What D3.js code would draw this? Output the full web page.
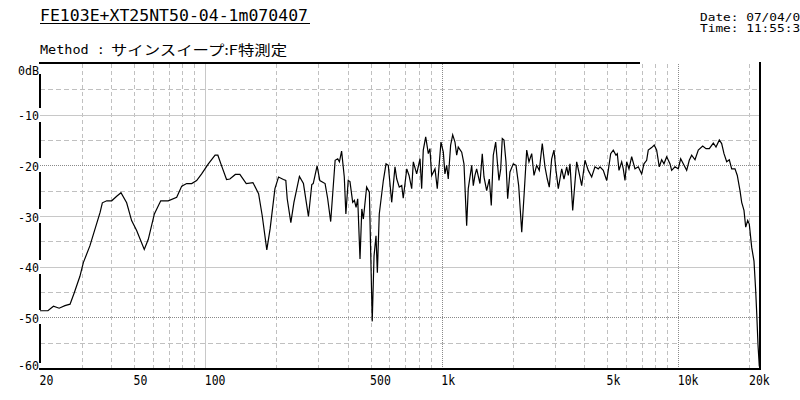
<!DOCTYPE html>
<html>
<head>
<meta charset="utf-8">
<script src="https://cdn.jsdelivr.net/npm/d3@7"></script>
<style>
  body { margin: 0; background: #fff; overflow: hidden; }
  svg { display: block; }
</style>
</head>
<body>
<div class="graph"></div>
<script>

// measured response (Hz, dB)
var freqs = [20, 21.6, 22.8, 24.1, 25.5, 26.8, 27.9, 29.5, 30.5, 32.5, 35.9, 36.7, 38.3, 40.2, 42.2, 44.0, 46.5, 48.8, 51.3, 55.2,
  57.4, 60.9, 64.8, 69.7, 75.7, 79.5, 83.4, 87.6, 91.9, 96.5, 103, 110, 113, 117, 123, 127, 134, 140, 149, 159,
  168, 174, 182, 188, 197, 204, 214, 219, 222, 230, 237, 250, 260, 273, 282, 286, 297, 305, 321, 329,
  339, 354, 363, 369, 377, 387, 393, 402, 409, 420, 427, 434, 441, 451, 459, 466, 481, 494, 508, 517,
  527, 534, 544, 566, 581, 594, 614, 634, 645, 661, 677, 687, 711, 727, 746, 758, 783, 809, 822, 835,
  855, 877, 891, 906, 936, 957, 992, 1015, 1031, 1049, 1065, 1090, 1112, 1137, 1156, 1174, 1214, 1241, 1274, 1294,
  1338, 1359, 1381, 1404, 1450, 1483, 1508, 1548, 1588, 1619, 1651, 1690, 1717, 1745, 1775, 1802, 1832, 1868, 1899, 1942,
  2006, 2060, 2114, 2178, 2227, 2286, 2337, 2400, 2454, 2519, 2584, 2660, 2731, 2793, 2848, 2915, 2981, 3040, 3109, 3214,
  3286, 3374, 3427, 3484, 3577, 3658, 3719, 3814, 3904, 4031, 4163, 4303, 4443, 4589, 4666, 4817, 4980, 5058, 5178, 5311,
  5452, 5522, 5614, 5763, 5853, 5951, 6050, 6187, 6352, 6560, 6773, 7001, 7159, 7350, 7465, 7716, 7914, 8101, 8309, 8506,
  8699, 8931, 9222, 9376, 9683, 10000, 10235, 10498, 10851, 11129, 11392, 11767, 12151, 12683, 13098, 13525, 14063, 14437, 14909, 15256,
  15606, 16022, 16433, 16821, 17370, 17763, 18236, 18540, 18960, 19277, 19656, 19965, 20437, 20900, 21250, 21457, 21731, 22008];

var levels = [-48.7, -48.7, -47.8, -48.2, -47.7, -47.4, -45.2, -41.9, -39.2, -35.9, -29.3, -27.4, -27.0, -27.0, -26.1, -25.4, -27.4, -30.9, -32.9, -36.6,
  -34.6, -29.6, -27.0, -27.0, -26.3, -24.1, -23.6, -23.6, -23.0, -21.7, -19.7, -18.0, -18.0, -20.0, -22.8, -22.7, -21.8, -21.8, -23.6, -23.4,
  -25.6, -29.9, -36.7, -32.5, -24.6, -22.3, -22.8, -23.0, -26.6, -31.3, -27.3, -22.2, -23.6, -30.1, -23.8, -23.6, -20.1, -23.0, -23.6, -26.5,
  -31.1, -19.0, -18.7, -19.3, -17.2, -22.3, -29.6, -23.0, -23.2, -27.3, -26.9, -28.3, -26.6, -38.5, -28.6, -30.6, -24.3, -25.3, -50.8, -37.9,
  -33.9, -41.2, -29.6, -23.0, -19.7, -20.0, -27.3, -20.3, -22.7, -24.3, -24.0, -26.5, -20.7, -22.0, -24.6, -19.3, -21.7, -18.7, -24.6, -17.0,
  -14.4, -17.7, -16.7, -22.0, -20.7, -24.6, -15.4, -17.4, -21.7, -20.0, -22.7, -16.0, -14.0, -15.4, -18.0, -16.4, -17.4, -19.7, -31.9, -24.6,
  -20.0, -24.0, -22.0, -20.7, -23.6, -17.7, -22.3, -25.0, -22.7, -27.9, -18.0, -15.4, -19.3, -23.0, -20.7, -14.7, -15.0, -19.3, -26.6, -21.3,
  -19.7, -20.0, -24.0, -33.2, -26.0, -17.0, -19.3, -17.7, -22.0, -20.0, -21.0, -15.7, -20.3, -22.7, -24.3, -18.7, -17.0, -21.0, -24.6, -20.7,
  -22.7, -20.3, -22.0, -19.7, -28.9, -23.3, -19.3, -21.7, -24.0, -19.0, -21.0, -22.3, -20.3, -20.7, -20.3, -21.0, -23.0, -21.0, -17.7, -17.0,
  -18.0, -17.7, -21.0, -19.3, -20.7, -23.0, -19.3, -20.7, -18.3, -20.7, -20.3, -21.7, -19.7, -19.0, -17.0, -16.5, -16.0, -17.0, -20.3, -18.9,
  -19.7, -18.3, -19.7, -21.0, -20.3, -20.7, -18.7, -19.7, -21.0, -19.0, -18.0, -18.9, -17.0, -16.2, -16.7, -16.7, -15.6, -16.4, -15.0, -15.7,
  -17.7, -19.3, -18.9, -20.7, -20.7, -22.0, -25.0, -27.3, -28.9, -32.2, -30.9, -31.6, -36.2, -38.9, -44.8, -49.1, -55.4, -59.7];

var xTicks = [20, 50, 100, 500, 1000, 5000, 10000, 20000];
var xTickLabels = ["20", "50", "100", "500", "1k", "5k", "10k", "20k"];
var xMinor = [30, 40, 50, 60, 70, 80, 90, 200, 300, 400, 500, 600, 700, 800, 900,
  2000, 3000, 4000, 5000, 6000, 7000, 8000, 9000, 20000];
var xMajor = [100, 1000, 10000];

var yTicks = [0, -10, -20, -30, -40, -50, -60];
var yTickLabels = ["0dB", "-10", "-20", "-30", "-40", "-50", "-60"];
var yMinor = [-5, -15, -25, -35, -45, -55];

var title = "FE103E+XT25NT50-04-1m070407";
var methodLabel = "Method :";
var methodText = "サインスイープ:F特測定";
var dateText = "Date: 07/04/07";
var timeText = "Time: 11:55:3";

const W = 800, H = 400;
const plot = { left: 40, right: 759.5, top: 64, bottom: 368 };
const mono = "'DejaVu Sans Mono', monospace";

var x = d3.scaleLog().domain([20, 22050]).range([plot.left, plot.right]);
var y = d3.scaleLinear().domain([-60, 0]).range([plot.bottom, plot.top]);

var svg = d3.select(".graph").append("svg")
    .attr("width", W)
    .attr("height", H);

// header
svg.append("text")
    .attr("x", 40).attr("y", 20.5)
    .attr("textLength", 268).attr("lengthAdjust", "spacingAndGlyphs")
    .style("font-family", mono).style("font-size", "16.5px")
    .text(title);
svg.append("line")
    .attr("x1", 40).attr("x2", 310).attr("y1", 23.5).attr("y2", 23.5)
    .style("stroke", "#000").style("stroke-width", 1);

svg.append("text")
    .attr("x", 40).attr("y", 54)
    .attr("textLength", 65).attr("lengthAdjust", "spacingAndGlyphs")
    .style("font-family", mono).style("font-size", "12.5px")
    .text(methodLabel);
svg.append("text")
    .attr("x", 111).attr("y", 54.5)
    .attr("textLength", 176).attr("lengthAdjust", "spacingAndGlyphs")
    .style("font-family", "'Noto Sans CJK JP', sans-serif").style("font-size", "13.5px")
    .text(methodText);

// date / time block, tight line pitch like the original
svg.append("text")
    .attr("x", 700).attr("y", 20.5)
    .attr("textLength", dateText.length * 7.7).attr("lengthAdjust", "spacingAndGlyphs")
    .style("font-family", mono).style("font-size", "10px")
    .text(dateText);
svg.append("text")
    .attr("x", 700).attr("y", 32)
    .attr("textLength", timeText.length * 7.7).attr("lengthAdjust", "spacingAndGlyphs")
    .style("font-family", mono).style("font-size", "10px")
    .text(timeText);

// grid
var grid = svg.append("g").attr("class", "grid").style("shape-rendering", "crispEdges");

grid.selectAll(".vminor")
    .data(xMinor)
    .enter().append("line")
    .attr("x1", d => Math.round(x(d)) + 0.5).attr("x2", d => Math.round(x(d)) + 0.5)
    .attr("y1", plot.top).attr("y2", plot.bottom)
    .style("stroke", "#c0c0c0").style("stroke-dasharray", "4,3");

grid.selectAll(".hminor")
    .data(yMinor)
    .enter().append("line")
    .attr("x1", plot.left).attr("x2", plot.right)
    .attr("y1", d => Math.round(y(d)) + 0.5).attr("y2", d => Math.round(y(d)) + 0.5)
    .style("stroke", "#c0c0c0").style("stroke-dasharray", "5,3");

var dottedDb = [-20, -50];
grid.selectAll(".hmajor")
    .data(yTicks.slice(1, -1))
    .enter().append("line")
    .attr("x1", plot.left).attr("x2", plot.right)
    .attr("y1", d => Math.round(y(d)) + 0.5).attr("y2", d => Math.round(y(d)) + 0.5)
    .style("stroke", d => dottedDb.includes(d) ? "#8a8a8a" : "#c8c8c8")
    .style("stroke-dasharray", d => dottedDb.includes(d) ? "1,1" : null);

grid.selectAll(".vmajor")
    .data(xMajor)
    .enter().append("line")
    .attr("x1", d => Math.round(x(d)) + 0.5).attr("x2", d => Math.round(x(d)) + 0.5)
    .attr("y1", plot.top).attr("y2", plot.bottom)
    .style("stroke", d => d == 100 ? "#c8c8c8" : "#8a8a8a")
    .style("stroke-dasharray", d => d == 100 ? null : "1,1");

// response curve
var line = d3.line()
    .x((d, i) => x(freqs[i]))
    .y(d => y(d));

svg.append("path")
    .datum(levels)
    .attr("d", line)
    .style("fill", "none")
    .style("stroke", "#000")
    .style("stroke-width", 1.2)
    .style("stroke-linejoin", "miter");

// frame
var frame = svg.append("g").style("stroke", "#000").style("stroke-width", 2).style("shape-rendering", "crispEdges");
frame.append("line").attr("x1", plot.left - 1).attr("x2", 640).attr("y1", plot.top - 1).attr("y2", plot.top - 1);
frame.append("line").attr("x1", plot.right + 0.5).attr("x2", plot.right + 0.5).attr("y1", plot.top - 2).attr("y2", plot.bottom + 1);
frame.append("line").attr("x1", plot.left - 1).attr("x2", plot.right + 1.5).attr("y1", plot.bottom + 0.5).attr("y2", plot.bottom + 0.5);

// left axis is broken where the labels sit
frame.selectAll(".yseg")
    .data(d3.pairs(yTicks))
    .enter().append("line")
    .attr("x1", plot.left).attr("x2", plot.left)
    .attr("y1", d => y(d[0]) + (d[0] == 0 ? 10 : 7))
    .attr("y2", d => y(d[1]) - (d[1] == -60 ? 5 : 7));

// axes labels
var xAxis = svg.append("g")
    .attr("transform", "translate(0," + plot.bottom + ")")
    .call(d3.axisBottom(x).tickValues(xTicks).tickSize(0).tickPadding(0)
        .tickFormat((d, i) => xTickLabels[i]));
xAxis.select(".domain").remove();
xAxis.selectAll("text")
    .attr("x", -1).attr("y", 16.5).attr("dy", null)
    .attr("textLength", function (d, i) { return xTickLabels[i].length * 6.9; })
    .attr("lengthAdjust", "spacingAndGlyphs")
    .style("text-anchor", "start")
    .style("font-family", mono).style("font-size", "13.5px").style("fill", "#000");

var yAxis = svg.append("g")
    .attr("transform", "translate(" + plot.left + ",0)")
    .call(d3.axisLeft(y).tickValues(yTicks).tickSize(0).tickPadding(1)
        .tickFormat((d, i) => yTickLabels[i]));
yAxis.select(".domain").remove();
yAxis.selectAll("text")
    .attr("dy", d => d == 0 ? "0.95em" : (d == -60 ? "0.15em" : "0.45em"))
    .attr("textLength", function (d, i) { return yTickLabels[i].length * 7; })
    .attr("lengthAdjust", "spacingAndGlyphs")
    .style("font-family", mono).style("font-size", "11.5px").style("fill", "#000");

</script>
</body>
</html>
